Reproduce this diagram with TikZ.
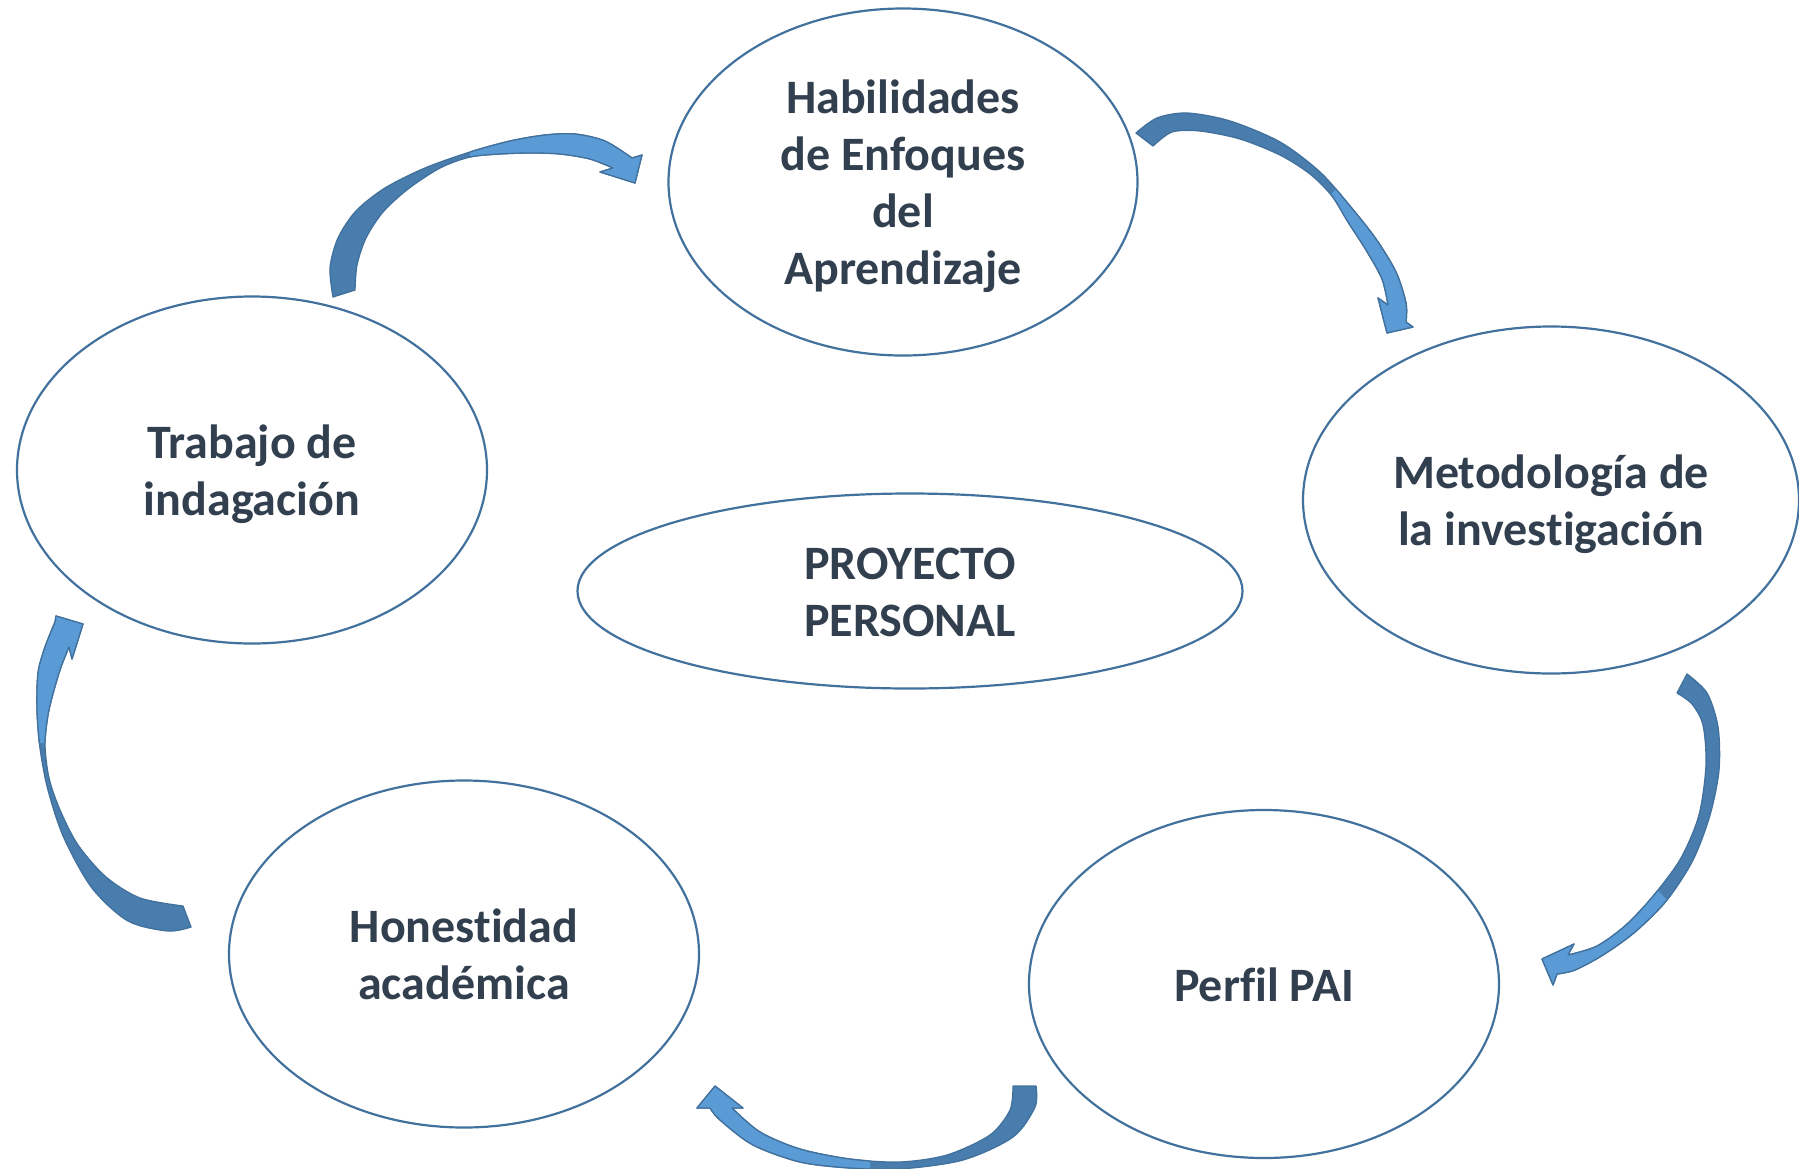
\documentclass[tikz,border=0pt]{standalone}
\usepackage{fontspec}
\setmainfont{Carlito}[Ligatures=NoCommon]
\usetikzlibrary{shapes.geometric}
\definecolor{txt}{HTML}{323F4F}
\definecolor{eline}{HTML}{41719C}
\definecolor{adark}{RGB}{73,125,174}
\definecolor{alight}{HTML}{5B9BD5}
\definecolor{aline}{HTML}{41719C}
\newcommand\lbl[1]{\raisebox{-6pt}[\height][\depth]{\begin{tabular}{@{}c@{}}#1\end{tabular}}}
\tikzset{
  ell/.style={ellipse, draw=eline, line width=2.2pt, inner sep=0pt, text=txt,
    font=\fontsize{48}{57}\selectfont\bfseries},
  backpart/.style={fill=adark, draw=aline, line width=1.3pt, line join=round},
  frontpart/.style={fill=alight, draw=aline, line width=1.3pt, line join=round},
  sm/.style={smooth, tension=0.5},
  % shapes of the five curved block arrows
  arrA/.style={insert path={
    plot[sm] coordinates {(333,297) (330,268) (338,238) (356,211) (385,188) (425,168)
      (470,152) (510,141) (545,135) (575,134) (605,141) (632,158)}
    -- (642,155) -- (635,183) -- (600,172) -- (613,168)
    -- plot[sm] coordinates {(613,168) (590,159) (560,154) (530,153) (500,154) (470,157)
      (440,168) (408,189) (383,212) (366,238) (357,265) (355,290)} -- cycle}},
  arrB/.style={insert path={
    plot[sm] coordinates {(1136,133) (1157,118) (1187,113) (1230,121) (1280,142) (1320,172)
      (1350,206) (1376,239) (1396,272) (1406,303) (1406,322)}
    -- (1413,327) -- (1387,333) -- (1378,298) -- (1388,305)
    -- plot[sm] coordinates {(1388,305) (1382,279) (1366,250) (1348,222) (1332,196)
      (1310,174) (1280,155) (1240,139) (1200,131) (1172,132) (1153,146)} -- cycle}},
  arrC/.style={insert path={
    plot[sm] coordinates {(1687,674) (1707,693) (1718,727) (1719,770) (1710,815) (1693,860)
      (1667,900) (1635,932) (1603,955) (1575,970) (1557,974)}
    -- (1553,985) -- (1542,959) -- (1574,944) -- (1568,955)
    -- plot[sm] coordinates {(1568,955) (1597,946) (1626,925) (1654,895) (1681,858)
      (1699,815) (1706,765) (1703,725) (1692,704) (1677,693)} -- cycle}},
  arrD/.style={insert path={
    plot[sm] coordinates {(1036,1086) (1035,1107) (1013,1137) (963,1160) (900,1169)
      (850,1168) (800,1162) (753,1145) (720,1120) (710,1108)}
    -- (697,1108) -- (715,1086) -- (743,1108) -- (732,1108)
    -- plot[sm] coordinates {(732,1108) (760,1132) (800,1149) (850,1159) (900,1162)
      (947,1155) (990,1135) (1010,1110) (1013,1086)} -- cycle}},
  arrE/.style={insert path={
    plot[sm] coordinates {(191,927) (168,931) (128,921) (92,888) (64,838) (48,790)
      (40,748) (37,710) (38,673) (45,647) (55,622)}
    -- (56,616) -- (83,624) -- (72,659) -- (69,647)
    -- plot[sm] coordinates {(69,647) (61,667) (54,690) (48,715) (45,745) (49,778)
      (60,810) (78,845) (106,877) (140,898) (183,906)} -- cycle}},
}
\begin{document}
\begin{tikzpicture}[x=1pt,y=-1pt]
\useasboundingbox (0,0) rectangle (1799,1168);

% ---------- ellipses ----------
\node[ell, minimum width=469pt, minimum height=347pt] (hab) at (903,182)
  {\lbl{Habilidades\\de Enfoques\\del\\Aprendizaje}};
\node[ell, minimum width=496pt, minimum height=347pt] (met) at (1551,500)
  {\lbl{Metodología de\\la investigación}};
\node[ell, minimum width=470pt, minimum height=347pt] (tra) at (252,470)
  {\lbl{Trabajo de\\indagación}};
\node[ell, minimum width=665pt, minimum height=195pt] (pro) at (910,591)
  {\lbl{PROYECTO\\PERSONAL}};
\node[ell, minimum width=470pt, minimum height=347pt] (hon) at (464,954)
  {\lbl{Honestidad\\académica}};
\node[ell, minimum width=470pt, minimum height=348pt] (per) at (1264,984)
  {\lbl{Perfil PAI}};

% ---------- curved arrows: dark back face, light front face near the head ----------
% Trabajo -> Habilidades
\path[backpart, arrA];
\begin{scope}
  \clip (470,0) rectangle (800,320);
  \path[frontpart, arrA];
\end{scope}
% Habilidades -> Metodologia
\path[backpart, arrB];
\begin{scope}
  \clip (1135,390) -- (1535,-10) -- (1650,-10) -- (1650,400) -- cycle;
  \path[frontpart, arrB];
\end{scope}
% Metodologia -> Perfil
\path[backpart, arrC];
\begin{scope}
  \clip (1362,595) -- (1862,1095) -- (1362,1095) -- cycle;
  \path[frontpart, arrC];
\end{scope}
% Perfil -> Honestidad
\path[backpart, arrD];
\begin{scope}
  \clip (600,1000) rectangle (870,1200);
  \path[frontpart, arrD];
\end{scope}
% Honestidad -> Trabajo
\path[backpart, arrE];
\begin{scope}
  \clip (0,560) rectangle (200,742);
  \path[frontpart, arrE];
\end{scope}
\end{tikzpicture}
\end{document}
